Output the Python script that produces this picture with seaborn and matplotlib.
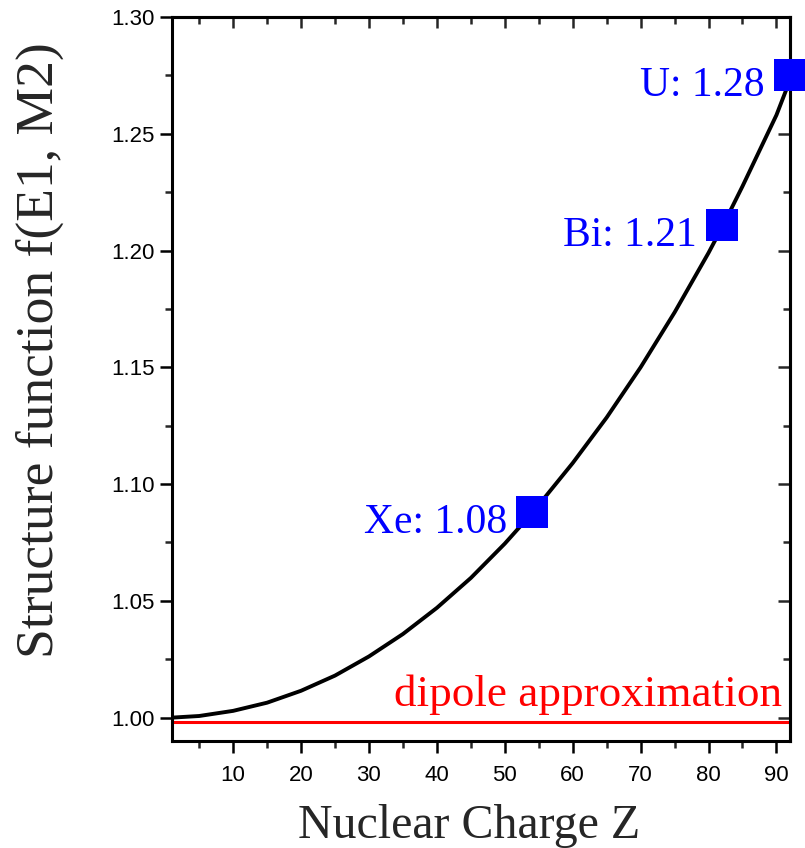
import numpy as np
import pandas as pd
import matplotlib
matplotlib.use("Agg")
import matplotlib.pyplot as plt
from matplotlib.ticker import MultipleLocator, FormatStrFormatter
import seaborn as sns

# curve
z_curve = [1, 5, 10, 15, 20, 25, 30, 35, 40, 45, 50, 54, 60, 65, 70, 75, 80, 82, 85, 90, 92]
f_curve = [1.000, 1.0007, 1.0029, 1.0064, 1.0115, 1.0180, 1.0262, 1.0358, 1.0470, 1.0598,
           1.0745, 1.0875, 1.1090, 1.1285, 1.1500, 1.1735, 1.1990, 1.2100, 1.2275, 1.2580, 1.2730]

# marked elements
elements = ["Xe", "Bi", "U"]
z_elem = [54, 82, 92]
f_elem = [1.088, 1.211, 1.275]
elem_labels = ["Xe: 1.08", "Bi: 1.21", "U: 1.28"]

dipole_level = 0.9983

sns.set_theme(style="ticks")
plt.rcParams["font.family"] = ["Liberation Sans", "DejaVu Sans"]

df_curve = pd.DataFrame({"Z": z_curve, "f": f_curve})
df_elem = pd.DataFrame({"Z": z_elem, "f": f_elem, "el": elements})

fig = plt.figure(figsize=(8.05, 8.48), dpi=100)
ax = fig.add_axes([0.2137, 0.1262, 0.7677, 0.8538])

sns.lineplot(data=df_curve, x="Z", y="f", color="black", linewidth=2.8, ax=ax, zorder=3)
ax.axhline(dipole_level, color="#ff0000", linewidth=2.2, zorder=2)
sns.scatterplot(data=df_elem, x="Z", y="f", marker="s", s=530, color="#0000ff",
                edgecolor="none", linewidth=0, ax=ax, zorder=5, clip_on=False, legend=False)

serif = ["Liberation Serif", "DejaVu Serif"]
for z, f, lab in zip(z_elem, f_elem, elem_labels):
    ax.annotate(lab, (z, f), xytext=(-18, -15), textcoords="offset points",
                ha="right", va="baseline", color="#0000ff", fontsize=30, family=serif)

ax.text(90.8, 1.0051, "dipole approximation", color="#ff0000", fontsize=32.5,
        family=serif, ha="right", va="baseline")

ax.set_xlim(1, 92)
ax.set_ylim(0.99, 1.30)
ax.set_xticks(np.arange(10, 91, 10))
ax.xaxis.set_minor_locator(MultipleLocator(5))
ax.set_yticks(np.arange(1.00, 1.301, 0.05))
ax.yaxis.set_minor_locator(MultipleLocator(0.025))
ax.yaxis.set_major_formatter(FormatStrFormatter("%.2f"))

ax.tick_params(which="major", direction="out", length=8.5, width=1.8, labelsize=16,
               colors="black")
ax.tick_params(which="minor", direction="out", length=5, width=1.8)
ax.tick_params(axis="x", which="major", pad=9)
ax.tick_params(axis="y", which="major", pad=4)

for sp in ax.spines.values():
    sp.set_visible(True)
    sp.set_linewidth(2.2)
    sp.set_color("black")

top = ax.secondary_xaxis("top")
top.set_xticks(np.arange(10, 91, 10))
top.xaxis.set_minor_locator(MultipleLocator(5))
top.tick_params(which="major", direction="in", length=8, width=1.8, labeltop=False)
top.tick_params(which="minor", direction="in", length=5, width=1.8)
top.spines["top"].set_linewidth(2.2)

right = ax.secondary_yaxis("right")
right.set_yticks(np.arange(1.00, 1.301, 0.05))
right.yaxis.set_minor_locator(MultipleLocator(0.025))
right.tick_params(which="major", direction="in", length=9, width=1.8, labelright=False)
right.tick_params(which="minor", direction="in", length=5, width=1.8)
right.spines["right"].set_linewidth(2.2)

ax.set_xlabel("Nuclear Charge Z", fontsize=34.5, family=serif)
ax.set_ylabel("Structure function f(E1, M2)", fontsize=38.5, family=serif)
ax.xaxis.set_label_coords(0.48, -0.087)
ax.yaxis.set_label_coords(-0.175, 0.54)

fig.savefig("out.png", dpi=100)
